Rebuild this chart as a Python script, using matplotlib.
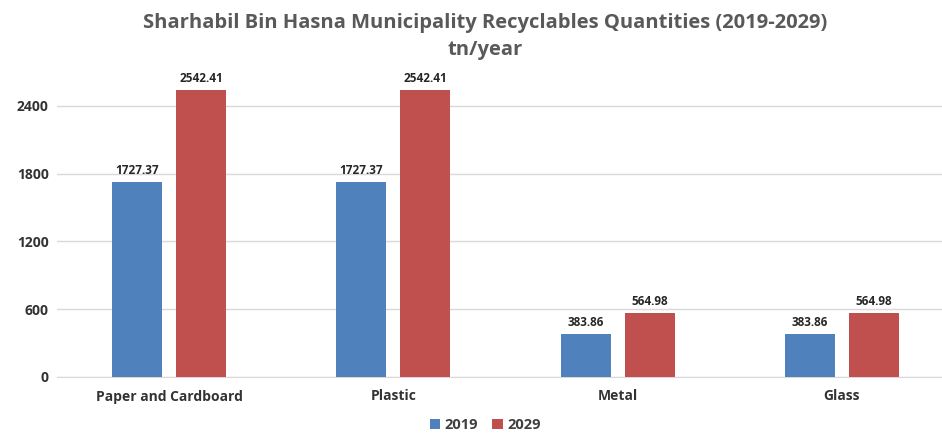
import matplotlib.pyplot as plt
import numpy as np

categories = ['Paper and Cardboard', 'Plastic', 'Metal', 'Glass']
years = ['2019', '2029']
values_2019 = [1727.37, 1727.37, 383.86, 383.86]
values_2029 = [2542.41, 2542.41, 564.98, 564.98]
colors = ['#4F81BD', '#C0504D']

plt.rcParams['font.family'] = ['Open Sans', 'DejaVu Sans']

fig = plt.figure(figsize=(9.42, 4.41), dpi=100)
ax = fig.add_axes([57 / 942, 64 / 441, 885 / 942, 305 / 441])

x = np.arange(len(categories))
width = 0.223
offset = 0.1425

for i, (vals, year) in enumerate(zip([values_2019, values_2029], years)):
    pos = x + (i * 2 - 1) * offset
    bars = ax.bar(pos, vals, width, color=colors[i], label=year, zorder=3)
    for b, v in zip(bars, vals):
        ax.text(b.get_x() + b.get_width() / 2, v + 45, f'{v:.2f}',
                ha='center', va='bottom', fontsize=8.5, fontweight='bold', color='#262626')

ax.set_xlim(-0.5, 3.447)
ax.set_ylim(0, 2700)
ax.set_yticks([0, 600, 1200, 1800, 2400])
ax.set_xticks(x)
ax.set_xticklabels(categories)
ax.yaxis.grid(color='#D9D9D9', linewidth=1, zorder=0)
ax.set_axisbelow(True)
for s in ['top', 'right', 'left']:
    ax.spines[s].set_visible(False)
ax.spines['bottom'].set_color('#D9D9D9')
ax.tick_params(axis='both', length=0, labelsize=10, labelcolor='#333333')
ax.tick_params(axis='x', pad=9)
ax.tick_params(axis='y', pad=6)
for lbl in ax.get_xticklabels() + ax.get_yticklabels():
    lbl.set_fontweight('bold')

fig.text(0.515, 0.97, 'Sharhabil Bin Hasna Municipality Recyclables Quantities (2019-2029)\ntn/year',
         ha='center', va='top', fontsize=14.5, fontweight='bold', color='#595959', linespacing=1.45)

fig.legend(loc='lower center', bbox_to_anchor=(0.515, -0.01), ncol=2, frameon=False,
           prop={'size': 10.5, 'weight': 'bold'}, labelcolor='#404040',
           handlelength=0.7, handleheight=0.7, handletextpad=0.3, columnspacing=1.0)

fig.savefig('out.png', dpi=100)
